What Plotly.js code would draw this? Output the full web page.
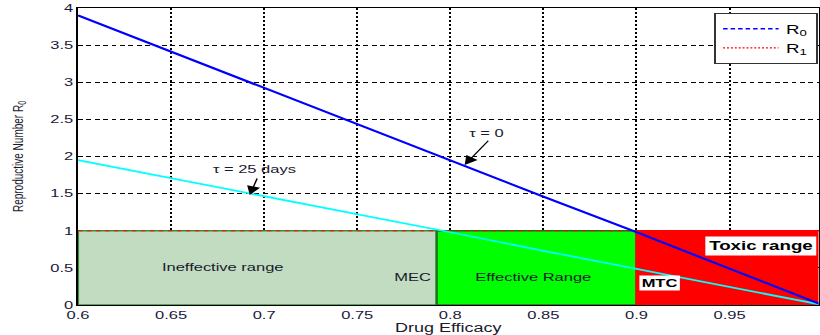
<!DOCTYPE html>
<html>
<head>
<meta charset="utf-8">
<script src="https://cdn.plot.ly/plotly-3.0.1.min.js"></script>
<style>
html,body{margin:0;padding:0;overflow:hidden;background:#fff}
/* the reference picture is stretched horizontally; reproduce that */
#chart{width:547px;height:335px;transform:scaleX(1.4991);transform-origin:0 0}
</style>
</head>
<body>
<div id="chart"></div>
<script>
// Data
const efficacy = [0.6, 0.65, 0.7, 0.75, 0.8, 0.85, 0.9, 0.95, 1.0];
const r0Tau0 = [3.9, 3.41, 2.93, 2.44, 1.95, 1.46, 0.98, 0.49, 0.0];
const r0Tau25 = [1.95, 1.71, 1.46, 1.22, 0.98, 0.73, 0.49, 0.24, 0.0];
const r1Level = [1, 1, 1, 1, 1, 1, 1, 1, 1];

const rangeNames = ["Ineffective range", "Effective Range", "Toxic range"];
const rangeStart = [0.6, 0.7927, 0.9];
const rangeEnd = [0.7927, 0.9, 1.0];
const rangeTop = 1;

const xTicks = [0.6, 0.65, 0.7, 0.75, 0.8, 0.85, 0.9, 0.95];
const xTickText = ["0.6", "0.65", "0.7", "0.75", "0.8", "0.85", "0.9", "0.95"];
const yTicks = [0, 0.5, 1, 1.5, 2, 2.5, 3, 3.5, 4];
const yTickText = ["0", "0.5", "1", "1.5", "2", "2.5", "3", "3.5", "4"];

const fillColors = ["#c1dcc1", "#00ff00", "#ff0000"];
const edgeColors = ["#3a8f3a", "#1f6f1f", "#ff0000"];

const shapes = rangeNames.map((n, i) => ({
  type: "rect", xref: "x", yref: "y", layer: "between",
  x0: rangeStart[i], x1: rangeEnd[i], y0: 0, y1: rangeTop,
  fillcolor: fillColors[i],
  line: {color: edgeColors[i], width: 1.5}
}));

const traces = [
  {x: efficacy, y: r1Level, mode: "lines", name: "R<sub>1</sub>", showlegend: false,
   line: {color: "#ff0000", width: 1.2, dash: "dot"}, hoverinfo: "skip"},
  {x: efficacy, y: r0Tau25, mode: "lines", showlegend: false,
   line: {color: "#00ffff", width: 1.8}},
  {x: efficacy, y: r0Tau0, mode: "lines", showlegend: false,
   line: {color: "#0000ff", width: 2}},
  // legend entries
  {x: [null], y: [null], mode: "lines", name: "R<sub>0</sub>",
   line: {color: "#0000ff", width: 1.5, dash: "3px,2px"}},
  {x: [null], y: [null], mode: "lines", name: "R<sub>1</sub>",
   line: {color: "#ff0000", width: 1.3, dash: "1.3px,1.3px"}}
];

const fam = "Liberation Sans, Arial, sans-serif";
const font = {family: fam, size: 11, color: "#1a1a2e"};
const tickFont = {family: fam, size: 11, color: "#1a1a3a"};

const annotations = [
  {x: 0.6781, y: 0.516, text: rangeNames[0], showarrow: false, font: font},
  {x: 0.7798, y: 0.377, text: "MEC", showarrow: false, font: font},
  {x: 0.8440, y: 0.377, text: rangeNames[1], showarrow: false, font: font},
  {x: 0.9121, y: 0.29, text: "<b>MTC</b>", showarrow: false, bgcolor: "#ffffff",
   font: {family: fam, size: 11, color: "#000"}, borderpad: 1},
  {x: 0.9664, y: 0.795, text: "<b>" + rangeNames[2] + "</b>", showarrow: false, bgcolor: "#ffffff",
   font: {family: fam, size: 12.5, color: "#000"}, borderpad: 2},
  {x: 0.8198, y: 2.316, text: "τ = 0", showarrow: false, font: font},
  {x: 0.8077, y: 1.886, ax: 0.8212, ay: 2.232, axref: "x", ayref: "y", text: "",
   showarrow: true, arrowhead: 2, arrowsize: 1.8, arrowwidth: 1, arrowcolor: "#000"},
  {x: 0.6953, y: 1.83, text: "τ = 25 days", showarrow: false, font: font},
  {x: 0.6923, y: 1.481, ax: 0.6966, ay: 1.724, axref: "x", ayref: "y", text: "",
   showarrow: true, arrowhead: 2, arrowsize: 1.8, arrowwidth: 1, arrowcolor: "#000"}
];

const layout = {
  width: 547, height: 335,
  margin: {l: 52, r: 0.7, t: 8, b: 30, pad: 0},
  paper_bgcolor: "#ffffff", plot_bgcolor: "#ffffff",
  font: font,
  showlegend: true,
  legend: {x: 0.9987, y: 0.983, xanchor: "right", yanchor: "top",
    bgcolor: "#ffffff", bordercolor: "#333", borderwidth: 1,
    font: {family: fam, size: 12.5, color: "#000"},
    itemwidth: 37, tracegroupgap: 0},
  xaxis: {range: [0.6, 0.9978], tickvals: xTicks, ticktext: xTickText,
    showgrid: true, gridcolor: "#000", griddash: "2px,2px", gridwidth: 1.33,
    showline: true, mirror: true, linecolor: "#000", linewidth: 1,
    ticks: "", zeroline: false, tickfont: tickFont,
    title: {text: "Drug Efficacy", font: {family: fam, size: 12, color: "#1a1a2e"}, standoff: 1}},
  yaxis: {range: [0, 4], tickvals: yTicks, ticktext: yTickText,
    showgrid: true, gridcolor: "#000", griddash: "3.3px,2.3px", gridwidth: 1,
    showline: true, mirror: true, linecolor: "#000", linewidth: 1,
    ticks: "", zeroline: false, tickfont: tickFont,
    title: {text: "Reproductive Number R<sub>0</sub>",
      font: {family: fam, size: 10, color: "#1a1a2e"}, standoff: 15}},
  shapes: shapes,
  annotations: annotations
};

Plotly.newPlot("chart", traces, layout, {displayModeBar: false, staticPlot: true});
</script>
</body>
</html>
